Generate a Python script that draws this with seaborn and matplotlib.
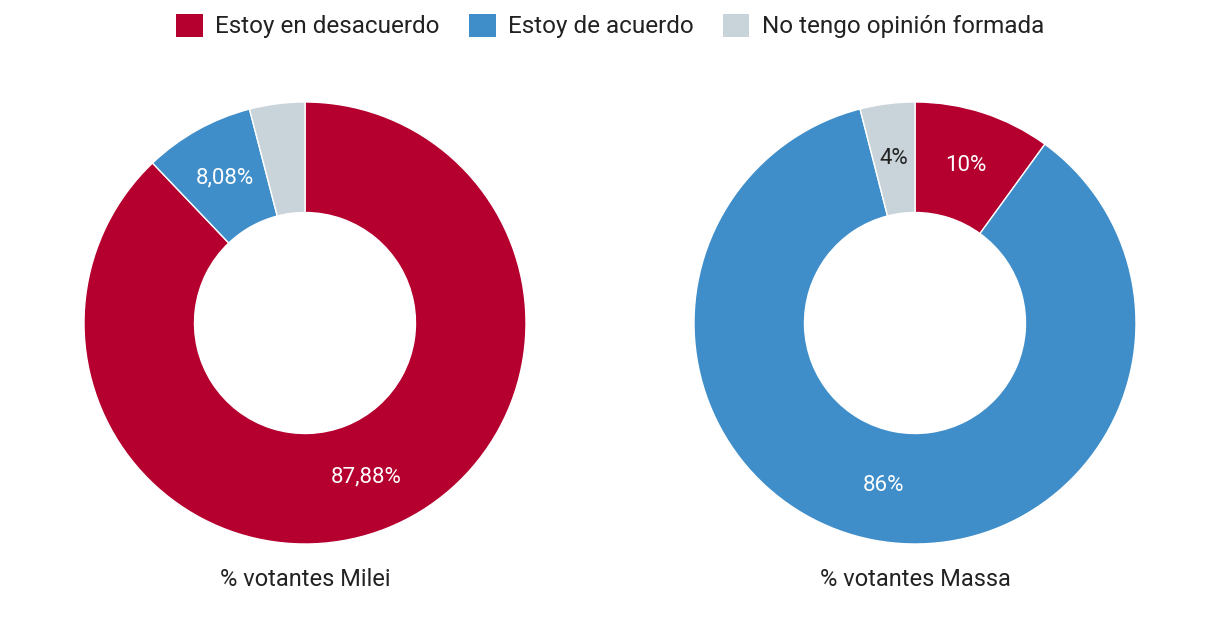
import numpy as np
import matplotlib
matplotlib.use("Agg")
import matplotlib.pyplot as plt
import seaborn as sns
from matplotlib.patches import Patch

categories = ["Estoy en desacuerdo", "Estoy de acuerdo", "No tengo opinión formada"]
milei_values = [87.88, 8.08, 4.04]
massa_values = [10, 86, 4]
milei_labels = ["87,88%", "8,08%", ""]
massa_labels = ["10%", "86%", "4%"]
groups = ["% votantes Milei", "% votantes Massa"]

colors = ["#b5002f", "#3f8ec9", "#c8d3da"]
label_colors = ["white", "white", "#222222"]

sns.set_theme(style="white")
plt.rcParams["font.family"] = ["Roboto", "DejaVu Sans"]

W, H = 1220, 626
fig = plt.figure(figsize=(W / 100, H / 100), dpi=100)

R = 221
pad = 1.1
centers = [(305, 323), (915, 323)]
datasets = [(milei_values, milei_labels), (massa_values, massa_labels)]

for (cx, cy), (vals, labs), title in zip(centers, datasets, groups):
    half = R * pad
    ax = fig.add_axes([(cx - half) / W, (H - cy - half) / H, 2 * half / W, 2 * half / H])
    wedges, _ = ax.pie(vals, colors=colors, startangle=90, counterclock=False,
                       wedgeprops=dict(width=0.5, edgecolor="white", linewidth=1))
    for w, lab, lc in zip(wedges, labs, label_colors):
        if not lab:
            continue
        mid = np.deg2rad((w.theta1 + w.theta2) / 2)
        ax.text(0.75 * np.cos(mid), 0.75 * np.sin(mid), lab, ha="center", va="center",
                fontsize=16, color=lc)
    ax.set_xlim(-pad, pad)
    ax.set_ylim(-pad, pad)
    ax.set_aspect("equal")
    ax.axis("off")
    fig.text(cx / W, 1 - 580 / H, title, ha="center", va="center", fontsize=17, color="#222222")

handles = [Patch(facecolor=c, edgecolor="none", label=l) for c, l in zip(colors, categories)]
fig.legend(handles=handles, loc="center", bbox_to_anchor=(0.5, 1 - 26 / H), ncol=3,
           frameon=False, fontsize=17.5, handlelength=1.1, handleheight=1.1,
           handletextpad=0.5, columnspacing=1.2, labelcolor="#222222")

fig.savefig("out.png", dpi=100)
